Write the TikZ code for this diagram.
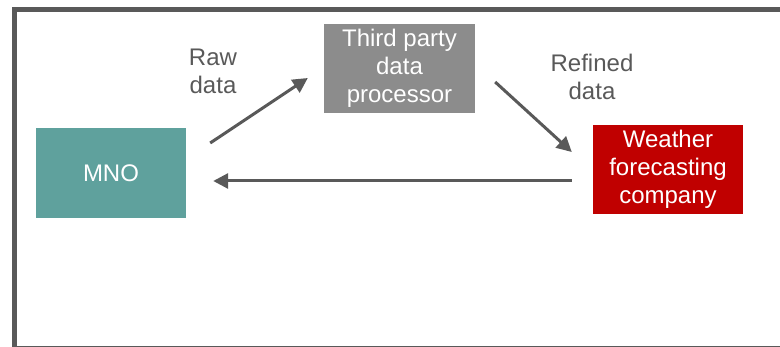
\documentclass[tikz,border=0pt]{standalone}
\usepackage{fontspec}
\setsansfont{Liberation Sans}
\usepackage{tikz}
\usetikzlibrary{arrows.meta}
\definecolor{mnoteal}{HTML}{5FA19D}
\definecolor{procgray}{HTML}{8C8C8C}
\definecolor{wfcred}{HTML}{C00000}
\definecolor{linegray}{HTML}{595959}

\begin{document}
\begin{tikzpicture}[x=1pt, y=1pt,
		box node/.style={rectangle, minimum width=150pt, minimum height=89pt, inner sep=0pt,
			align=center, text=white, font=\sffamily\fontsize{24}{28}\selectfont},
		label node/.style={align=center, text=linegray, font=\sffamily\fontsize{24}{28}\selectfont},
		flow/.style={line width=3pt, draw=linegray, -{Triangle[length=15pt,width=15pt]}}]
		
		\useasboundingbox (0,0) rectangle (780,-347);
		\draw[line width=5pt, linegray] (14.5,-348.5) rectangle (805,-9.5);
		
		\node[box node, fill=mnoteal, minimum height=90pt] (1) at (111,-173) {MNO};
		\node[box node, fill=procgray, minimum width=151pt] (2) at (399.5,-68.5) {Third party\\data\\processor};
		\node[box node, fill=wfcred] (3) at (668,-169.5) {Weather\\forecasting\\company};
		
		\node[label node] (4) at (213,-71) {Raw\\data};
		\node[label node] (5) at (592,-77) {Refined\\data};
		
		\draw[flow] ([shift={(24pt,30pt)}]1.east) -- ([shift={(-16pt,-9.5pt)}]2.west);
		\draw[flow] ([shift={(20pt,-13.5pt)}]2.east) -- ([shift={(-21pt,17.5pt)}]3.west);
		\draw[flow] ([shift={(-21pt,-11.5pt)}]3.west) -- ([shift={(27pt,-8pt)}]1.east);
		\end{tikzpicture}
\end{document}
